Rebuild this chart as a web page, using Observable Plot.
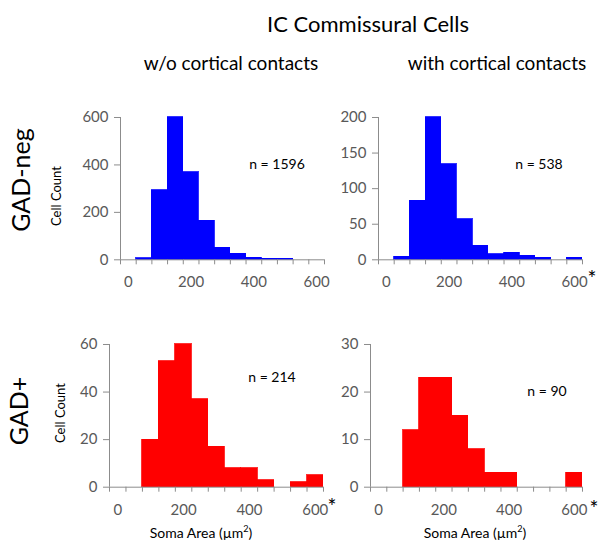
<!DOCTYPE html>
<html>
<head>
<meta charset="utf-8">
<script src="https://cdn.jsdelivr.net/npm/d3@7"></script>
<script src="https://cdn.jsdelivr.net/npm/@observablehq/plot@0.6"></script>
<style>
  html, body { margin: 0; padding: 0; background: #fff; }
  #fig { position: relative; width: 604px; height: 554px; overflow: hidden; font-family: Lato, "Open Sans", sans-serif; color: #000; }
  .lbl { position: absolute; transform: translate(-50%, -50%); white-space: nowrap; line-height: 1; }
  .rot { transform: translate(-50%, -50%) rotate(-90deg); }
  .panel { position: absolute; }
</style>
</head>
<body>
<div id="fig"></div>
<script>
// ---- data ----
const bins = [0, 50, 100, 150, 200, 250, 300, 350, 400, 450, 500, 550, 600];
const gadNegWithout = [0, 7, 294, 600, 369, 164, 50, 25, 8, 4, 4, 0, 0];
const gadNegWith    = [0, 4, 83, 200, 134, 57, 20, 8, 10, 6, 3, 0, 3];
const gadPosWithout = [0, 0, 20, 53, 60, 37, 17, 8, 8, 3, 0, 2, 5];
const gadPosWith    = [0, 0, 12, 23, 23, 15, 8, 3, 3, 0, 0, 0, 3];
const xLabelTicks = [0, 200, 400, 600];
const yTicksNegWithout = [0, 200, 400, 600];
const yTicksNegWith = [0, 50, 100, 150, 200];
const yTicksPosWithout = [0, 20, 40, 60];
const yTicksPosWith = [0, 10, 20, 30];
const binWidth = 50;
const titleText = "IC Commissural Cells";
const colTitles = ["w/o cortical contacts", "with cortical contacts"];
const rowTitles = ["GAD-neg", "GAD+"];
const nLabels = ["n = 1596", "n = 538", "n = 214", "n = 90"];

const fig = document.getElementById("fig");
const xDomain = [bins[0] - binWidth / 2, bins[bins.length - 1] + binWidth / 2];
const boundaries = bins.map(b => b - binWidth / 2).concat([xDomain[1]]);

function panel(counts, yTicks, color, frame) {
  const data = bins.map((b, i) => ({bin: b, count: counts[i]})).filter(d => d.count > 0);
  const mL = 60, mR = 12, mT = 12, mB = 44;
  const w = frame.x1 - frame.x0, h = frame.y1 - frame.y0;
  const ymax = yTicks[yTicks.length - 1];
  const chart = Plot.plot({
    width: w + mL + mR,
    height: h + mT + mB,
    marginLeft: mL, marginRight: mR, marginTop: mT, marginBottom: mB,
    style: {fontFamily: "Lato, 'Open Sans', sans-serif", fontSize: "15px", background: "transparent"},
    x: {domain: xDomain, axis: null},
    y: {domain: [0, ymax], axis: null},
    marks: [
      Plot.rectY(data, {x1: d => d.bin - binWidth / 2, x2: d => d.bin + binWidth / 2, y1: 0, y2: "count", fill: color, stroke: color, strokeWidth: 0.8, inset: 0, shapeRendering: "crispEdges"}),
      Plot.ruleX([xDomain[0]], {y1: 0, y2: ymax, stroke: "#8c8c8c", strokeWidth: 1}),
      Plot.ruleY([0], {stroke: "#8c8c8c", strokeWidth: 1}),
      Plot.axisY({ticks: yTicks, tickSize: 6, tickPadding: 6, stroke: "#8c8c8c", fill: "#595959", fontSize: 15, label: null}),
      Plot.axisX({ticks: boundaries, tickSize: 5, tickFormat: () => "", stroke: "#8c8c8c", label: null}),
      Plot.axisX({ticks: xLabelTicks, tickSize: 0, tickPadding: 17, fill: "#595959", fontSize: 15, label: null})
    ]
  });
  chart.classList.add("panel");
  chart.style.left = (frame.x0 - mL) + "px";
  chart.style.top = (frame.y0 - mT) + "px";
  fig.appendChild(chart);
}

panel(gadNegWithout, yTicksNegWithout, "#0000ff", {x0: 120, x1: 324, y0: 116.7, y1: 259});
panel(gadNegWith, yTicksNegWith, "#0000ff", {x0: 378, x1: 582, y0: 116.7, y1: 259});
panel(gadPosWithout, yTicksPosWithout, "#ff0000", {x0: 109, x1: 323, y0: 344, y1: 486.7});
panel(gadPosWith, yTicksPosWith, "#ff0000", {x0: 370, x1: 582, y0: 344, y1: 486.7});

function label(text, x, y, size, opts = {}) {
  const d = document.createElement("div");
  d.className = "lbl" + (opts.rot ? " rot" : "");
  d.style.left = x + "px";
  d.style.top = y + "px";
  d.style.fontSize = size + "px";
  if (opts.color) d.style.color = opts.color;
  if (opts.html) d.innerHTML = text; else d.textContent = text;
  fig.appendChild(d);
}

label(titleText, 368, 24, 22);
label(colTitles[0], 231, 62, 19);
label(colTitles[1], 497, 62, 19);
label(rowTitles[0], 20, 180, 25, {rot: true});
label(rowTitles[1], 18, 411, 25, {rot: true});
label("Cell Count", 56, 196, 13, {rot: true});
label("Cell Count", 60, 413, 13, {rot: true});
label(nLabels[0], 277, 164, 14);
label(nLabels[1], 539, 164, 14);
label(nLabels[2], 272, 377, 14);
label(nLabels[3], 547, 391, 14);
label("Soma Area (µm<sup style='font-size:0.65em'>2</sup>)", 201, 532, 14, {html: true});
label("Soma Area (µm<sup style='font-size:0.65em'>2</sup>)", 475, 532, 14, {html: true});
label("*", 592, 277, 21);
label("*", 332, 505, 21);
label("*", 594, 507, 21);
</script>
</body>
</html>
